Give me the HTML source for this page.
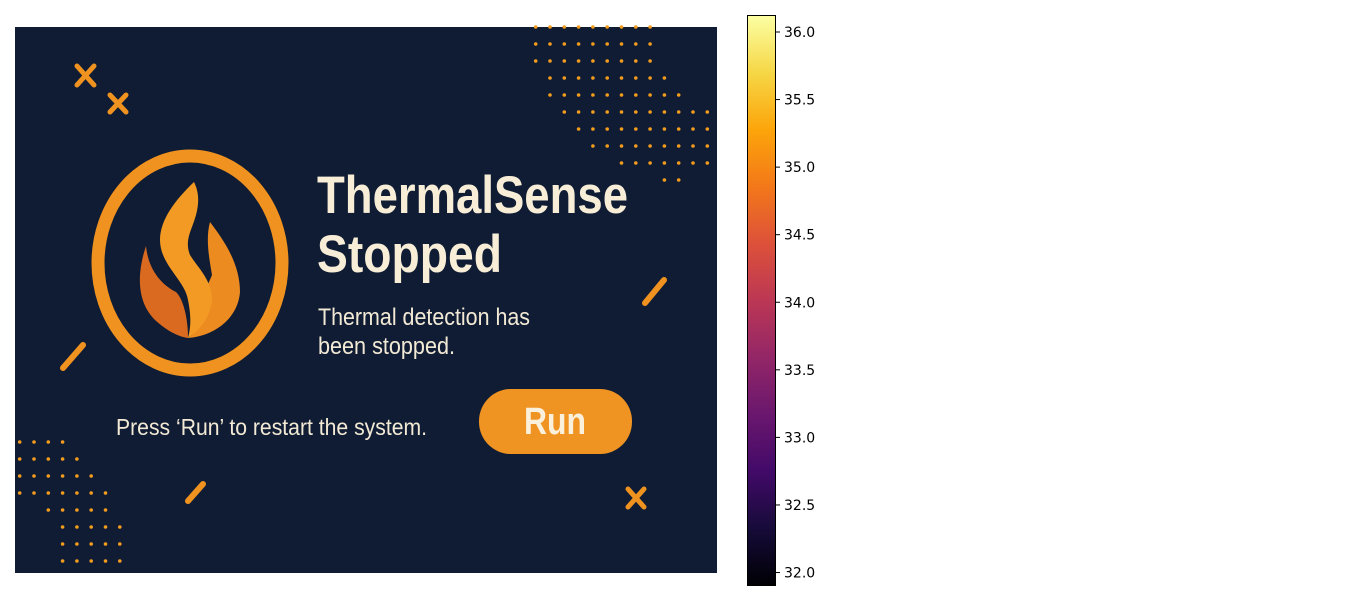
<!DOCTYPE html>
<html><head><meta charset="utf-8">
<style>
html,body{margin:0;padding:0;background:#fff;width:1346px;height:600px;overflow:hidden}
svg{display:block}
text{font-family:"Liberation Sans Narrow","Liberation Sans",sans-serif}
</style></head>
<body>
<svg id="fig" width="1346" height="600" viewBox="0 0 1346 600" xmlns="http://www.w3.org/2000/svg">
<defs>
<linearGradient id="inferno" x1="0" y1="1" x2="0" y2="0">
<stop offset="0" stop-color="#000004"/>
<stop offset="0.1" stop-color="#160b39"/>
<stop offset="0.2" stop-color="#420a68"/>
<stop offset="0.3" stop-color="#6a176e"/>
<stop offset="0.4" stop-color="#932667"/>
<stop offset="0.5" stop-color="#bc3754"/>
<stop offset="0.6" stop-color="#dd513a"/>
<stop offset="0.7" stop-color="#f37819"/>
<stop offset="0.8" stop-color="#fca50a"/>
<stop offset="0.9" stop-color="#f6d746"/>
<stop offset="1" stop-color="#fcffa4"/>
</linearGradient>
</defs>
<g>
<rect x="15" y="27" width="702" height="546" fill="#0f1c33"/>
<g id="dots" fill="#f39c1e"></g>
<g stroke="#f0921f" stroke-width="5" stroke-linecap="round">
<path d="M77 66 L94 85 M94 66 L77 85"/>
<path d="M110 95 L126 112 M126 95 L110 112"/>
<path d="M628 489 L644 507 M644 489 L628 507"/>
<path d="M645 303 L664 280" stroke-width="6"/>
<path d="M63 368 L83 345" stroke-width="6"/>
<path d="M188 501 L203 484" stroke-width="6"/>
</g>
<g>
<ellipse cx="190" cy="263" rx="92" ry="107" fill="none" stroke="#f0921f" stroke-width="13"/>
<path d="M146 246 C138 270 135 300 155 320 C168 332 180 337 188 338 C188 320 184 300 176 292 C160 284 148 268 146 246 Z" fill="#da6a1f"/>
<path d="M210 222 C205 240 210 262 212 275 C206 290 200 298 198 300 C206 318 200 330 188 338 C215 336 238 318 240 292 C240 262 222 238 210 222 Z" fill="#ec8b20"/>
<path d="M194 182 C175 200 160 220 160 240 C160 265 185 280 188 300 C192 320 190 330 188 338 C200 330 210 318 212 300 C212 280 198 268 190 255 C184 240 192 230 196 215 C200 200 198 190 194 182 Z" fill="#f29a23"/>
</g>
<text x="317" y="213" font-size="53" font-weight="bold" fill="#f8eed8" textLength="311" lengthAdjust="spacingAndGlyphs">ThermalSense</text>
<text x="317" y="272" font-size="53" font-weight="bold" fill="#f8eed8" textLength="185" lengthAdjust="spacingAndGlyphs">Stopped</text>
<text x="318" y="325" font-size="24" fill="#f3ead6" textLength="212" lengthAdjust="spacingAndGlyphs">Thermal detection has</text>
<text x="318" y="354" font-size="24" fill="#f3ead6" textLength="137" lengthAdjust="spacingAndGlyphs">been stopped.</text>
<text x="116" y="435" font-size="23" fill="#f3ead6" textLength="311" lengthAdjust="spacingAndGlyphs">Press ‘Run’ to restart the system.</text>
<g>
<rect x="479" y="389" width="153" height="65" rx="32" fill="#ef9322"/>
<text x="555" y="434" font-size="38" font-weight="bold" fill="#fbf0dc" text-anchor="middle" textLength="62" lengthAdjust="spacingAndGlyphs">Run</text>
</g>
</g>
<g>
<rect x="747.5" y="15.5" width="28" height="570" fill="url(#inferno)" stroke="#000" stroke-width="1"/>
<g id="cticks"></g>
</g>
</svg>
<script>
const tickValues = [32.0, 32.5, 33.0, 33.5, 34.0, 34.5, 35.0, 35.5, 36.0];
const tickLabels = ["32.0","32.5","33.0","33.5","34.0","34.5","35.0","35.5","36.0"];
const cbMin = 31.904, cbMax = 36.122;
const NS = "http://www.w3.org/2000/svg";
function yScale(v){ return 585.5 - (v - cbMin) / (cbMax - cbMin) * 570; }
const tg = document.getElementById('cticks');
tickValues.forEach((v, i) => {
  const y = yScale(v);
  const l = document.createElementNS(NS, 'line');
  l.setAttribute('x1', 775.5); l.setAttribute('x2', 780);
  l.setAttribute('y1', y); l.setAttribute('y2', y);
  l.setAttribute('stroke', '#000');
  
  
  tg.appendChild(l);
  const t = document.createElementNS(NS, 'text');
  t.setAttribute('x', 784); t.setAttribute('y', y + 5);
  t.setAttribute('font-size', '14');
  t.setAttribute('style', 'font-family:"DejaVu Sans","Liberation Sans",sans-serif');
  t.textContent = tickLabels[i];
  
  
  tg.appendChild(t);
});
// decorative dot grids
const dg = document.getElementById('dots');
const topRows = [[27,0,8],[44,0,8],[61,0,8],[78,1,9],[95,1,10],[112,2,12],[129,3,12],[146,4,12],[163,6,12],[180,9,10]];
topRows.forEach(r => { for (let c = r[1]; c <= r[2]; c++) {
  const d = document.createElementNS(NS, 'circle');
  d.setAttribute('cx', 535.7 + c * 14.3); d.setAttribute('cy', r[0]); d.setAttribute('r', 1.8);
  
  
  dg.appendChild(d);
}});
const botRows = [[442,0,3],[459,0,4],[476,0,5],[493,0,6],[510,2,6],[527,3,7],[544,3,7],[561,3,7]];
botRows.forEach(r => { for (let c = r[1]; c <= r[2]; c++) {
  const d = document.createElementNS(NS, 'circle');
  d.setAttribute('cx', 19.7 + c * 14.3); d.setAttribute('cy', r[0]); d.setAttribute('r', 1.8);
  
  
  dg.appendChild(d);
}});
</script>
</body></html>
